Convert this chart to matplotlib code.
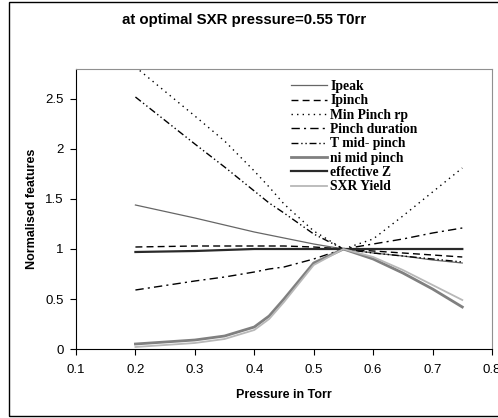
import matplotlib
matplotlib.use("Agg")
import matplotlib.pyplot as plt
from matplotlib.patches import Rectangle
from matplotlib.lines import Line2D

pressure = [0.2, 0.3, 0.35, 0.4, 0.425, 0.45, 0.5, 0.55, 0.6, 0.65, 0.7, 0.75]
ipeak = [1.44, 1.31, 1.24, 1.17, 1.14, 1.11, 1.05, 1.0, 0.96, 0.93, 0.89, 0.86]
ipinch = [1.02, 1.03, 1.03, 1.03, 1.03, 1.03, 1.02, 1.0, 0.98, 0.96, 0.94, 0.92]
min_pinch_rp = [2.82, 2.33, 2.08, 1.78, 1.62, 1.45, 1.18, 1.0, 1.1, 1.33, 1.57, 1.81]
pinch_duration = [0.59, 0.68, 0.72, 0.77, 0.80, 0.82, 0.90, 1.0, 1.05, 1.10, 1.16, 1.21]
t_mid_pinch = [2.52, 2.05, 1.82, 1.58, 1.46, 1.36, 1.15, 1.0, 0.96, 0.93, 0.90, 0.87]
ni_mid_pinch = [0.05, 0.09, 0.13, 0.22, 0.33, 0.50, 0.86, 1.0, 0.90, 0.76, 0.60, 0.42]
effective_z = [0.97, 0.98, 0.99, 1.0, 1.0, 1.0, 1.0, 1.0, 1.0, 1.0, 1.0, 1.0]
sxr_yield = [0.02, 0.06, 0.10, 0.19, 0.30, 0.47, 0.84, 1.0, 0.92, 0.79, 0.64, 0.49]

labels = ['Ipeak', 'Ipinch', 'Min Pinch rp', 'Pinch duration', 'T mid- pinch',
          'ni mid pinch', 'effective Z', 'SXR Yield']
xticks = [0.1, 0.2, 0.3, 0.4, 0.5, 0.6, 0.7, 0.8]
xticklabels = ['0.1', '0.2', '0.3', '0.4', '0.5', '0.6', '0.7', '0.8']
yticks = [0, 0.5, 1, 1.5, 2, 2.5]
yticklabels = ['0', '0.5', '1', '1.5', '2', '2.5']

plt.rcParams['font.family'] = ['Liberation Sans', 'DejaVu Sans']

fig = plt.figure(figsize=(4.98, 4.18), dpi=100)
ax = fig.add_axes([76/498, 1-349/418, (492-76)/498, (349-69)/418])

fig.patches.append(Rectangle((9/498, 2/418), 1.2, 414/418, transform=fig.transFigure,
                             fill=False, edgecolor='black', linewidth=1.0))

styles = [
    dict(color='#666666', lw=0.9),
    dict(color='black', lw=1.0, dashes=(5, 3)),
    dict(color='black', lw=1.0, dashes=(1, 3)),
    dict(color='black', lw=1.0, dashes=(6, 3, 1.5, 3)),
    dict(color='black', lw=1.0, dashes=(5, 2, 1, 2, 1, 2)),
    dict(color='#808080', lw=2.0),
    dict(color='#2a2a2a', lw=1.6),
    dict(color='#b8b8b8', lw=1.3),
]
series = [ipeak, ipinch, min_pinch_rp, pinch_duration, t_mid_pinch,
          ni_mid_pinch, effective_z, sxr_yield]
for ys, st, lab in zip(series, styles, labels):
    ax.plot(pressure, ys, label=lab, **st)

handles = [Line2D([], [], **st) for st in styles]
ax.legend(handles, labels, loc='upper left', bbox_to_anchor=(0.493, 0.995),
          frameon=False, prop={'family': 'Liberation Serif', 'weight': 'bold', 'size': 9.8},
          handlelength=2.7, handletextpad=0.2, labelspacing=0.1, borderpad=0.2)

ax.set_xlim(0.1, 0.8)
ax.set_ylim(0, 2.8)
ax.set_xticks(xticks)
ax.set_xticklabels(xticklabels)
ax.set_yticks(yticks)
ax.set_yticklabels(yticklabels)
ax.tick_params(direction='out', length=4, width=0.8, labelsize=9.5)
ax.tick_params(axis='x', pad=7)
ax.tick_params(axis='y', pad=5)
for s in ['top', 'right']:
    ax.spines[s].set_color('#909090')
for s in ['left', 'bottom']:
    ax.spines[s].set_color('black')

ax.set_xlabel('Pressure in Torr', fontsize=9, fontweight='bold', labelpad=9)
ax.set_ylabel('Normalised features', fontsize=9, fontweight='bold', labelpad=5)
fig.text(244/498, 1-20/418, 'at optimal SXR pressure=0.55 T0rr', ha='center', va='center',
         fontsize=10.8, fontweight='bold')

fig.savefig('out.png', dpi=100)
